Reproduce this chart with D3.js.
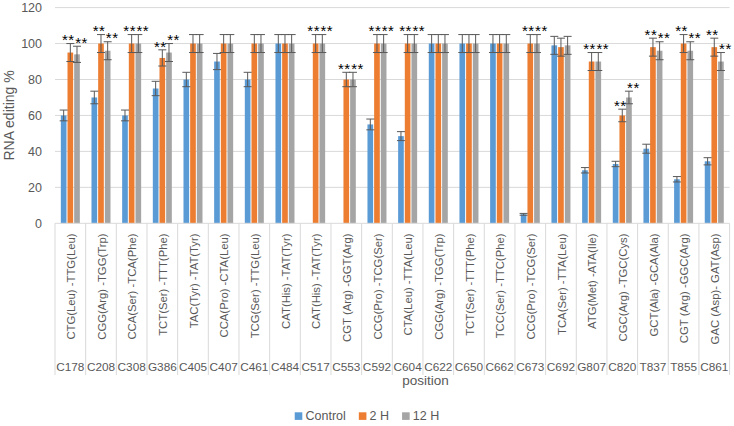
<!DOCTYPE html>
<html><head><meta charset="utf-8">
<script src="https://cdn.jsdelivr.net/npm/d3@7"></script>
<style>
html,body{margin:0;padding:0;background:#fff;}
svg{display:block;font-family:"Liberation Sans",Arial,sans-serif;}
</style></head>
<body><svg id="c" width="734" height="426"></svg>
<script>
const positions = ["C178","C208","C308","G386","C405","C407","C461","C484","C517","C553","C592","C604","C622","C650","C662","C673","C692","G807","C820","T837","T855","C861"];
const codons = ["CTG(Leu) -TTG(Leu)","CGG(Arg) -TGG(Trp)","CCA(Ser) -TCA(Phe)","TCT(Ser) -TTT(Phe)","TAC(Tyr) -TAT(Tyr)","CCA(Pro) -CTA(Leu)","TCG(Ser) -TTG(Leu)","CAT(His) -TAT(Tyr)","CAT(His) -TAT(Tyr)","CGT (Arg) -GGT(Arg)","CCG(Pro) -TCG(Ser)","CTA(Leu) -TTA(Leu)","CGG(Arg) -TGG(Trp)","TCT(Ser) -TTT(Phe)","TCC(Ser) -TTC(Phe)","CCG(Pro) -TCG(Ser)","TCA(Ser) -TTA(Leu)","ATG(Met) -ATA(Ile)","CGC(Arg) -TGC(Cys)","GCT(Ala) -GCA(Ala)","CGT (Arg) -GGC(Arg)","GAC (Asp)- GAT(Asp)"];
const seriesNames = ["Control","2 H","12 H"];
const control = [60,70,60,75,80,90,80,100,0,0,55,48.5,100,100,100,5,99,29.5,33,41.5,24.5,34.5];
const h2      = [95,100,100,92,100,100,100,100,100,80,100,100,100,100,100,100,98,90,60,98,100,98];
const h12     = [94,96,100,95,100,100,100,100,100,80,100,100,100,100,100,100,99,90,70,96,96,90];
const errControl = [3,3.5,3,4,4,4.5,4,5,0,0,3,2.5,5,5,5,0.5,5,1.5,1.5,2.5,1.5,2];
const err2       = [5,5,5,4.5,5,5,5,5,5,4,5,5,5,5,5,5,5,5,3.5,5,5,5];
const err12      = [4.5,5,5,5,5,5,5,5,5,4,5,5,5,5,5,5,5,5,3.5,5,5,5];
const sig2  = ["**","**","**","**","","","","","**","**","**","**","","","","**","","**","**","**","**","**"];
const sig12 = ["**","**","**","**","","","","","**","**","**","**","","","","**","","**","**","**","**","**"];
const yTicks = [0,20,40,60,80,100,120];
const colors = ["#5B9BD5","#ED7D31","#A5A5A5"];

const svg = d3.select("#c");
const L = 55, R = 729.6, T = 7.6, B = 223.3;
const x = d3.scaleBand().domain(positions).range([L, R]).padding(0);
const bw = x.bandwidth();
const gpad = 5.83;
const xs = d3.scaleBand().domain(seriesNames).range([gpad, bw - gpad]).paddingInner(0.15);
const y = d3.scaleLinear().domain([0,120]).range([B, T]);

// gridlines
svg.append("g").selectAll("line").data(yTicks.filter(d=>d>0)).join("line")
  .attr("x1", L).attr("x2", R).attr("y1", d=>y(d)).attr("y2", d=>y(d))
  .attr("stroke", "#d9d9d9").attr("stroke-width", 1);

// y tick labels
svg.append("g").selectAll("text").data(yTicks).join("text")
  .attr("x", 42).attr("y", d=>y(d)+4.4).attr("text-anchor","end")
  .attr("font-size", 12.5).attr("fill","#595959").text(d=>d);

// y title
svg.append("text").attr("transform", `translate(13.5,${(T+B)/2}) rotate(-90)`)
  .attr("text-anchor","middle").attr("font-size",14).attr("fill","#595959").text("RNA editing %");

// bars
const series = [control, h2, h12];
const errs = [errControl, err2, err12];
const rows = [];
positions.forEach((p,i)=>{
  seriesNames.forEach((s,j)=>{
    rows.push({p, s, j, v: series[j][i], e: errs[j][i], sig: j===1 ? sig2[i] : (j===2 ? sig12[i] : "")});
  });
});
const g = svg.append("g");
g.selectAll("rect").data(rows.filter(d=>d.v>0)).join("rect")
  .attr("x", d=>x(d.p)+xs(d.s)).attr("width", xs.bandwidth())
  .attr("y", d=>y(d.v)).attr("height", d=>B - y(d.v))
  .attr("fill", d=>colors[d.j]);

// axis line
svg.append("line").attr("x1",L).attr("x2",R).attr("y1",B).attr("y2",B).attr("stroke","#d9d9d9");

// error bars
const eb = svg.append("g").attr("stroke","#595959").attr("stroke-width",1);
rows.filter(d=>d.v>0).forEach(d=>{
  const cx = x(d.p)+xs(d.s)+xs.bandwidth()/2;
  const y1 = y(d.v + d.e), y2 = y(d.v - d.e);
  eb.append("line").attr("x1",cx).attr("x2",cx).attr("y1",y1).attr("y2",y2);
  eb.append("line").attr("x1",cx-4).attr("x2",cx+4).attr("y1",y1).attr("y2",y1);
  eb.append("line").attr("x1",cx-4).attr("x2",cx+4).attr("y1",y2).attr("y2",y2);
});

// significance stars
svg.append("g").selectAll("text").data(rows.filter(d=>d.sig)).join("text")
  .attr("x", d=>x(d.p)+xs(d.s)+xs.bandwidth()/2 + (d.j===1 ? -2 : 4.5))
  .attr("y", d=>y(d.v + d.e) + 1.7)
  .attr("text-anchor","middle").attr("font-size",15).attr("letter-spacing",0.5)
  .attr("fill","#000").text(d=>d.sig);

// category dividers
const bounds = positions.map(p=>x(p)).concat([R]);
svg.append("g").selectAll("line").data(bounds).join("line")
  .attr("x1",d=>d).attr("x2",d=>d).attr("y1",B).attr("y2",375)
  .attr("stroke","#d9d9d9");

// codon labels
svg.append("g").selectAll("text").data(positions).join("text")
  .attr("transform",(p,i)=>`translate(${x(p)+bw/2+4.6},233.5) rotate(-90)`)
  .attr("text-anchor","end").attr("font-size",11.3).attr("fill","#595959")
  .text((p,i)=>codons[i]);

// position labels
svg.append("g").selectAll("text").data(positions).join("text")
  .attr("x",p=>x(p)+bw/2).attr("y",370.5).attr("text-anchor","middle")
  .attr("font-size",11.8).attr("fill","#595959").text(p=>p);

// x title
svg.append("text").attr("x",425.5).attr("y",385).attr("text-anchor","middle")
  .attr("font-size",13.5).attr("fill","#595959").text("position");

// legend
const lg = svg.append("g");
let cx = 0;
seriesNames.forEach((s,j)=>{
  const it = lg.append("g");
  it.append("rect").attr("x",cx).attr("y",412.3).attr("width",7.6).attr("height",7.6).attr("fill",colors[j]);
  const t = it.append("text").attr("x",cx+10.8).attr("y",420.3).attr("font-size",12.5).attr("fill","#595959").text(s);
  cx += 10.8 + t.node().getComputedTextLength() + 13;
});
const total = cx - 13;
lg.attr("transform",`translate(${367 - total/2},0)`);
</script>
</body></html>
